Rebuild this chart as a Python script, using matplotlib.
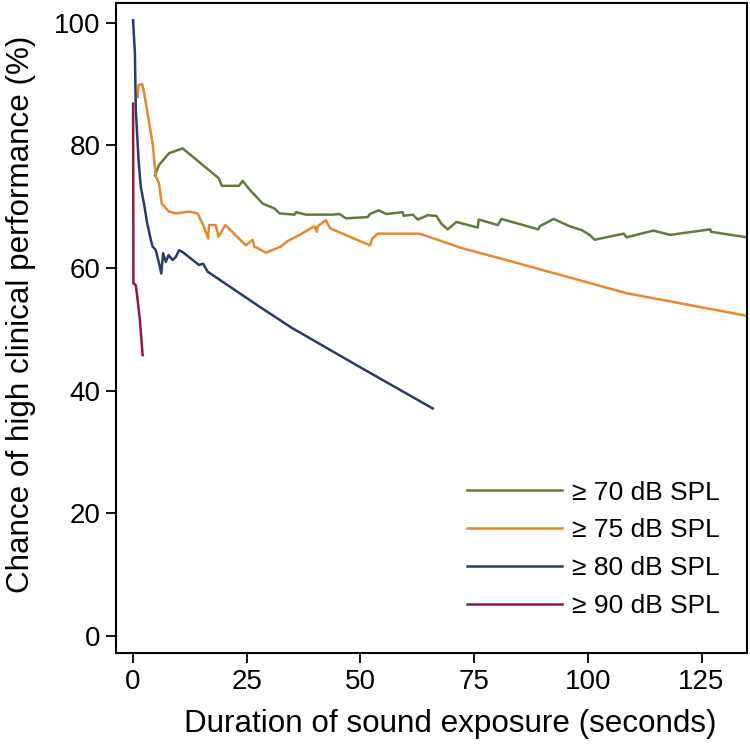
import numpy as np
import matplotlib.pyplot as plt

plt.rcParams['font.family'] = ['Liberation Sans', 'DejaVu Sans']

# >= 70 dB SPL
x70 = [4.8, 5.7, 7.9, 10.9, 18.9, 19.5, 23.3, 24.1, 25.6, 28.5, 31.1, 32.2, 35.5, 35.8,
       38.0, 43.9, 45.4, 46.8, 51.6, 52.1, 54.0, 55.7, 59.3, 59.5, 61.5, 62.6, 64.8, 66.7,
       67.8, 69.2, 71.1, 75.8, 76.0, 80.2, 81.0, 89.1, 89.4, 92.5, 96.0, 98.6, 100.4, 101.5,
       107.9, 108.5, 114.4, 118.1, 126.9, 127.1, 135.0]
y70 = [75.1, 76.8, 78.7, 79.5, 74.6, 73.4, 73.4, 74.2, 72.8, 70.5, 69.7, 68.9, 68.7, 69.1,
       68.7, 68.7, 68.8, 68.1, 68.3, 68.8, 69.4, 68.8, 69.1, 68.5, 68.7, 67.9, 68.6, 68.5,
       67.2, 66.3, 67.5, 66.6, 67.9, 67.0, 68.0, 66.3, 66.8, 68.0, 66.8, 66.2, 65.4, 64.6,
       65.6, 65.0, 66.1, 65.4, 66.3, 65.9, 65.0]

# >= 75 dB SPL
x75 = [1.0, 1.2, 2.0, 2.4, 4.3, 5.0, 5.7, 6.3, 7.9, 9.4, 12.3, 14.2, 15.6, 16.5, 16.7,
       18.2, 18.8, 20.3, 23.3, 24.8, 26.3, 26.7, 27.0, 29.2, 32.5, 34.0, 36.6, 39.9, 40.4,
       40.6, 42.4, 43.3, 47.6, 52.1, 52.6, 53.8, 63.0, 72.5, 80.6, 108.5, 135.0]
y75 = [87.9, 89.8, 90.0, 88.7, 80.3, 74.9, 73.8, 70.5, 69.2, 68.9, 69.2, 68.9, 66.7, 64.8, 67.0,
       67.0, 65.1, 67.0, 64.8, 63.7, 64.6, 63.4, 63.4, 62.5, 63.5, 64.4, 65.4, 66.8, 65.9,
       66.8, 67.8, 66.5, 65.1, 63.7, 64.8, 65.6, 65.6, 63.2, 61.6, 55.9, 52.2]

# >= 80 dB SPL
x80 = [0.0, 0.4, 0.6, 1.2, 1.7, 2.4, 3.1, 3.9, 4.3, 5.0, 5.7, 6.2, 6.6, 7.2, 7.8, 8.7,
       9.4, 10.1, 10.9, 14.5, 15.4, 16.4, 27.8, 35.0, 50.0, 65.9]
y80 = [100.4, 95.0, 85.8, 77.6, 73.2, 70.5, 67.3, 64.6, 63.5, 62.9, 60.8, 59.1, 62.4, 61.0,
       62.1, 61.3, 61.8, 62.9, 62.6, 60.5, 60.7, 59.4, 53.7, 50.2, 43.8, 37.1]

# >= 90 dB SPL
x90 = [0.0, 0.05, 0.07, 0.6, 1.0, 1.5, 2.1]
y90 = [86.8, 70.0, 57.5, 57.2, 54.8, 51.5, 45.8]

fig = plt.figure(figsize=(7.5, 7.5), dpi=100)
ax = fig.add_axes([0.155, 0.129, 0.841, 0.867])

lw = 1.8
ax.plot(x70, y70, color='#627a40', lw=lw, label='\u2265 70 dB SPL')
ax.plot(x75, y75, color='#e5892e', lw=lw, label='\u2265 75 dB SPL')
ax.plot(x80, y80, color='#2b3c64', lw=lw, label='\u2265 80 dB SPL')
ax.plot(x90, y90, color='#8e1a3c', lw=lw, label='\u2265 90 dB SPL')

ax.set_xlim(-3.7, 135)
ax.set_ylim(-2.8, 103.2)
ax.set_xticks([0, 25, 50, 75, 100, 125])
ax.set_yticks([0, 20, 40, 60, 80, 100])
for s in ax.spines.values():
    s.set_linewidth(1.5)
ax.tick_params(direction='out', length=7.5, width=1.3, labelsize=20, pad=4)
ax.set_xlabel('Duration of sound exposure (seconds)', fontsize=22.6)
ax.set_ylabel('Chance of high clinical performance (%)', fontsize=22.6)
# labels sit a bit off the axes centre in the original
ax.xaxis.set_label_coords(0.529, -0.085)
ax.yaxis.set_label_coords(-0.128, 0.522)

leg = ax.legend(loc='lower right', frameon=False, fontsize=19, handlelength=3.6,
                labelspacing=0.52, handletextpad=0.38, bbox_to_anchor=(0.995, 0.018))

fig.savefig('out.png', dpi=100)
